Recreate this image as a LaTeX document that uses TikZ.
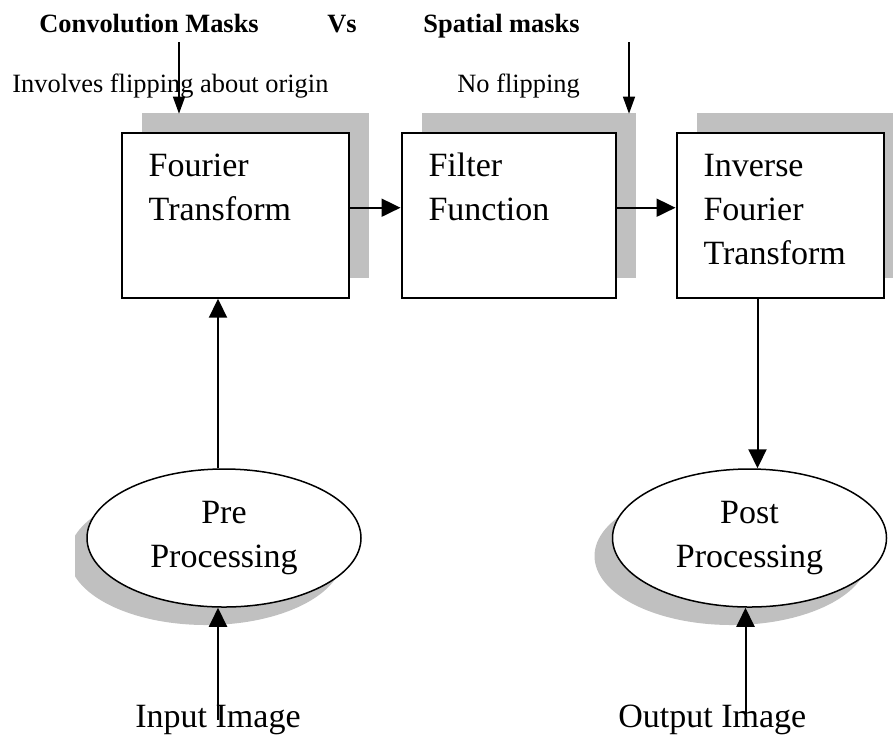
\documentclass[tikz,border=0pt]{standalone}
\usepackage{fontspec}
\setmainfont{Liberation Serif}
\usetikzlibrary{positioning,shapes.geometric,shadows,arrows.meta,calc}
\definecolor{shadeGray}{HTML}{C0C0C0}

\begin{document}
\begin{tikzpicture}[x=0.5pt,y=-0.5pt,>={Triangle[length=9.5pt,width=9pt]}]
  \tikzstyle{box}=[draw,line width=1pt,fill=white,anchor=north west,align=left,inner xsep=13.5pt,inner ysep=0pt,text height=21.65pt,text depth=60.85pt,font=\fontsize{17}{22}\selectfont,drop shadow={shadow xshift=10pt,shadow yshift=10pt,fill=shadeGray,opacity=1}]
  \tikzstyle{proc}=[ellipse,draw,line width=0.75pt,fill=white,minimum width=137pt,minimum height=69pt,inner sep=0pt,align=center,font=\fontsize{17}{22}\selectfont,drop shadow={shadow xshift=-9pt,shadow yshift=-9pt,fill=shadeGray,opacity=1}]
  \tikzstyle{note}=[anchor=base west,inner sep=0pt,font=\fontsize{13.2}{16}\selectfont]
  \tikzstyle{head}=[note,font=\fontsize{13.2}{16}\selectfont\bfseries]
  \tikzstyle{io}=[anchor=base west,inner sep=0pt,font=\fontsize{17}{22}\selectfont]
  \tikzstyle{flow}=[->,line width=1pt]
  \tikzstyle{hint}=[->,line width=0.7pt,>={Triangle[length=8.5pt,width=6pt]}]
  \useasboundingbox (0,0) rectangle (893,735);

  % headings
  \node[head] (conv) at (39,32) {Convolution Masks};
  \node[head] (vs) at (327,32) {Vs};
  \node[head] (spat) at (423,32) {Spatial masks};
  \node[note] (flip) at (12,92) {Involves flipping about origin};
  \node[note] (noflip) at (457,92) {No flipping};

  % frequency domain blocks
  \node[box,text width=86.5pt] (ft) at (120.7,131.7) {Fourier\\Transform};
  \node[box,text width=80pt,right=25.4pt of ft] (filt) {Filter\\Function};
  \node[box,text width=76.5pt,right=29.5pt of filt] (ift) {Inverse\\Fourier\\Transform};

  % processing stages
  \begin{scope}
    \clip (75,0) rectangle (893,735);
    \node[proc] (pre) at (224,538) {Pre\\Processing};
  \end{scope}
  \node[proc,right=125pt of pre] (post) {Post\\Processing};

  \node[io] (inimg) at (135,727) {Input Image};
  \node[io] (outimg) at (618,727) {Output Image};

  % connectors
  \draw[flow] ([yshift=3.75pt]ft.east) -- ([yshift=3.75pt]filt.west);
  \draw[flow] ([yshift=3.75pt]filt.east) -- ([yshift=3.75pt]ift.west);
  \draw[flow] ($(pre.north)+(-6,0)$) -- ($(pre.north |- ft.south)+(-6,0)$);
  \draw[flow] ($(ift.south -| post.north)+(8,0)$) -- ($(post.north)+(8,0)$);
  \draw[flow] (inimg.center) -- (inimg.center |- pre.south);
  \draw[flow] ($(post.south |- outimg.center)+(-4,0)$) -- ($(post.south)+(-4,0)$);

  % mask notes
  \coordinate (convTail) at (179,42);
  \coordinate (spatTail) at (629,42);
  \draw[hint] (convTail) -- ($(convTail |- ft.north)+(0,-18)$);
  \draw[hint] (spatTail) -- ($(spatTail |- filt.north)+(0,-18)$);
\end{tikzpicture}
\end{document}
